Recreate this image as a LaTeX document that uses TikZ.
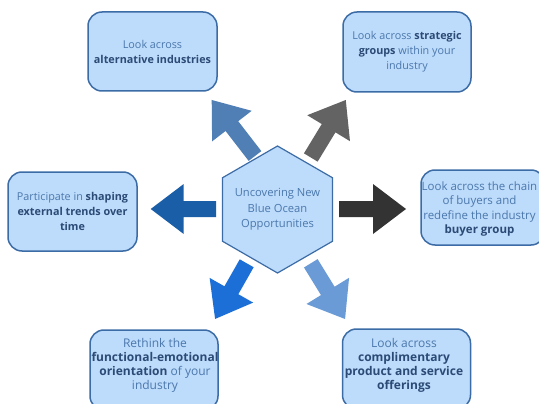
\documentclass[tikz,border=0pt]{standalone}
\usepackage{fontspec}
\setmainfont{Open Sans}
\usetikzlibrary{shapes.geometric}
\definecolor{boxfill}{HTML}{BDDBFA}
\definecolor{boxline}{HTML}{3C6CA6}
\definecolor{txtc}{HTML}{4B78AD}
\definecolor{boldc}{HTML}{2B4A75}
\definecolor{aTL}{HTML}{4F7FB5}
\definecolor{aTR}{HTML}{636363}
\definecolor{aL}{HTML}{1A5EA8}
\definecolor{aR}{HTML}{333333}
\definecolor{aBL}{HTML}{1B6FD6}
\definecolor{aBR}{HTML}{6A9BD6}
\newcommand\hl[1]{\textbf{\color{boldc}#1}}
% block arrow: color, tail x, tail y, angle, length
\newcommand\blockarrow[5]{%
  \begin{scope}[shift={(#2,#3)},rotate=#4]
    \fill[#1] (0,-8) -- ({#5-33},-8) -- ({#5-33},-25) -- (#5,0) -- ({#5-33},25) -- ({#5-33},8) -- (0,8) -- cycle;
  \end{scope}}
\tikzset{
  box/.style={draw=boxline, line width=1.5pt, fill=boxfill, rounded corners=14pt,
    rectangle, inner sep=0pt, text=txtc, align=center,
    font=\fontsize{10.8}{15}\selectfont},
  txt/.style={inner sep=0pt, text=txtc, align=center, font=\fontsize{12}{14}\selectfont},
  hexa/.style={regular polygon, regular polygon sides=6, shape border rotate=30,
    draw=boxline, line width=1.2pt, fill=boxfill, minimum size=127pt, inner sep=0pt},
  hext/.style={inner sep=0pt, text=txtc, align=center, font=\fontsize{11.2}{15.5}\selectfont}
}
\begin{document}
\begin{tikzpicture}[x=1pt,y=-1pt]
\clip (0,0) rectangle (539,404);
\fill[white] (0,0) rectangle (539,404);

% boxes
\node[box, minimum width=129pt, minimum height=79pt] (tl) at (152.5,51.5)
  {Look across\\\hl{alternative industries}};
\node[box, minimum width=128pt, minimum height=80pt] (tr) at (407,52)
  {Look across \hl{strategic}\\\hl{groups} within your\\industry};
\node[box, minimum width=129pt, minimum height=79pt] (l) at (72.5,211.5)
  {Participate in \hl{shaping}\\\hl{external trends over}\\\hl{time}};
\node[box, minimum width=124pt, minimum height=75pt] (r) at (483,207.5) {};
\node[txt, font=\fontsize{11.5}{14.5}\selectfont] (rt) at (479.5,209)
  {Look across the chain\\of buyers and\\redefine the industry\\\hl{buyer group}};
\node[box, minimum width=128pt, minimum height=80pt] (bl) at (154,370) {};
\node[txt] (blt) at (155,365)
  {Rethink the\\\hl{functional-emotional}\\\hl{orientation} of your\\industry};
\node[box, minimum width=128pt, minimum height=80pt] (br) at (406.5,369) {};
\node[txt] (brt) at (404,365.5)
  {Look across\\\hl{complimentary}\\\hl{product and service}\\\hl{offerings}};

% center hexagon
\node[hexa] (hex) at (277.5,209.5) {};
\node[hext] (hext) at (hex.center) {Uncovering New\\Blue Ocean\\Opportunities};

% arrows
\blockarrow{aTL}{255}{156}{127.7}{70.8}
\blockarrow{aTR}{310.8}{157.5}{58.7}{67.3}
\blockarrow{aL}{216}{209}{180}{65.3}
\blockarrow{aR}{339}{209}{0}{67}
\blockarrow{aBL}{246.7}{263.3}{240.4}{64}
\blockarrow{aBR}{310.8}{263.3}{-58.4}{65.4}
\end{tikzpicture}
\end{document}
